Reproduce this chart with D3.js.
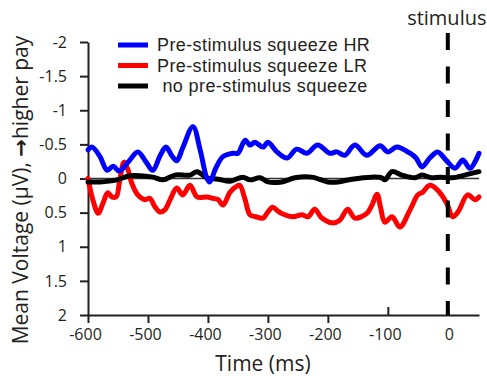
<!DOCTYPE html>
<html>
<head>
<meta charset="utf-8">
<script src="https://cdn.jsdelivr.net/npm/d3@7"></script>
<style>
  body { margin: 0; background: #fff; }
  svg { font-family: "Open Sans", sans-serif; }
</style>
</head>
<body>
<svg width="487" height="376"></svg>
<script>
// values (time in ms, voltage in µV; negative is plotted up)
const hrTime = [-600,-593,-580,-568,-558,-548,-533,-517,-503,-492,-480,-470,-460,-452,-442,-425,-413,-402,-397,-387,-375,-358,-350,-338,-330,-322,-308,-300,-285,-268,-252,-235,-217,-197,-185,-172,-155,-135,-113,-100,-85,-63,-53,-43,-30,-17,-3,12,25,37,52];
const hrVal = [-0.42,-0.46,-0.32,-0.12,-0.18,-0.11,-0.24,-0.39,-0.24,-0.12,-0.33,-0.46,-0.33,-0.26,-0.45,-0.76,-0.42,-0.01,0.05,-0.15,-0.32,-0.37,-0.37,-0.56,-0.49,-0.53,-0.46,-0.53,-0.39,-0.30,-0.43,-0.37,-0.49,-0.37,-0.39,-0.34,-0.49,-0.34,-0.48,-0.39,-0.46,-0.37,-0.30,-0.17,-0.30,-0.39,-0.27,-0.15,-0.27,-0.15,-0.37];

const lrTime = [-600,-592,-583,-575,-567,-560,-553,-547,-540,-533,-527,-517,-505,-497,-488,-480,-472,-463,-452,-442,-430,-418,-402,-392,-383,-375,-363,-353,-347,-338,-330,-320,-308,-300,-292,-283,-275,-258,-243,-233,-222,-210,-193,-180,-167,-155,-135,-127,-118,-112,-105,-93,-80,-63,-50,-42,-30,-17,-2,8,17,33,45,52];
const lrVal = [0.0,0.31,0.51,0.36,0.21,0.27,0.27,0.02,-0.24,-0.12,0.07,0.24,0.31,0.29,0.42,0.49,0.46,0.31,0.14,0.24,0.1,0.27,0.27,0.29,0.31,0.39,0.2,0.12,0.1,0.31,0.53,0.56,0.58,0.49,0.42,0.48,0.52,0.56,0.53,0.56,0.45,0.58,0.65,0.61,0.45,0.58,0.51,0.4,0.23,0.43,0.64,0.56,0.71,0.46,0.24,0.2,0.1,0.17,0.36,0.56,0.49,0.24,0.31,0.27];

const nsTime = [-600,-580,-552,-530,-492,-475,-455,-430,-418,-402,-383,-363,-342,-330,-313,-300,-277,-255,-227,-200,-183,-160,-127,-110,-105,-93,-77,-55,-43,-27,-13,7,28,52];
const nsVal = [0.05,0.05,0.02,-0.04,-0.02,0.02,-0.05,-0.05,-0.1,-0.01,0.01,0.04,-0.02,0.02,-0.01,0.05,0.05,-0.01,-0.02,0.05,0.05,0.01,-0.02,-0.01,0.02,-0.1,-0.05,-0.01,-0.05,-0.01,-0.02,-0.01,-0.05,-0.1];

const seriesNames = ["Pre-stimulus squeeze HR", "Pre-stimulus squeeze LR", " no pre-stimulus squeeze"];
const seriesColors = ["#0000ff", "#ff0000", "#000000"];
const xTicks = [-600, -500, -400, -300, -200, -100, 0];
const yTicks = [-2, -1.5, -1, -0.5, 0, 0.5, 1, 1.5, 2];

const svg = d3.select("svg");
const x = d3.scaleLinear().domain([-600, 52]).range([88, 479]);
const y = d3.scaleLinear().domain([-2, 2]).range([42, 315]);
const ink = "#231f20";

// axes (plain hyphen for negatives, like the original)
const yAxis = svg.append("g")
  .attr("transform", `translate(${x(-600)},0)`)
  .call(d3.axisLeft(y).tickValues(yTicks).tickSize(8).tickSizeOuter(0).tickPadding(13)
    .tickFormat(d => String(d)));
const xAxis = svg.append("g")
  .attr("transform", `translate(0,${y(2)})`)
  .call(d3.axisBottom(x).tickValues(xTicks).tickSize(8).tickSizeOuter(0).tickPadding(6)
    .tickFormat(d => String(d)));

[yAxis, xAxis].forEach(g => {
  g.select(".domain").attr("stroke", ink).attr("stroke-width", 2);
  g.selectAll(".tick line").attr("stroke", ink).attr("stroke-width", 2);
  g.selectAll(".tick text").attr("fill", ink).style("font-size", "16px")
    .style("font-family", '"Open Sans", sans-serif');
});
xAxis.selectAll(".tick").filter(d => d >= -100).select("line").attr("y2", -8);
xAxis.selectAll(".tick text").attr("dx", d => d < 0 ? "-3px" : "1px");

// zero line
svg.append("line")
  .attr("x1", x(-600)).attr("x2", x(52))
  .attr("y1", y(0)).attr("y2", y(0))
  .attr("stroke", "#333").attr("stroke-width", 1.5);

const line = d3.line().x(d => x(d[0])).y(d => y(d[1])).curve(d3.curveCatmullRom);

const series = [
  d3.zip(lrTime, lrVal),
  d3.zip(nsTime, nsVal),
  d3.zip(hrTime, hrVal)
];
const colors = [seriesColors[1], seriesColors[2], seriesColors[0]];

svg.selectAll("path.trace")
  .data(series)
  .enter()
  .append("path")
  .attr("class", "trace")
  .attr("d", line)
  .attr("fill", "none")
  .attr("stroke", (d, i) => colors[i])
  .attr("stroke-width", 5)
  .attr("stroke-linejoin", "round")
  .attr("stroke-linecap", "round");

// stimulus marker
svg.append("line")
  .attr("x1", x(0)).attr("x2", x(0))
  .attr("y1", 33).attr("y2", y(2))
  .attr("stroke", "#000").attr("stroke-width", 4)
  .attr("stroke-dasharray", "17,16.5");
svg.append("text")
  .attr("x", x(0) - 1).attr("y", 25)
  .attr("text-anchor", "middle")
  .style("font-size", "20px").attr("fill", ink)
  .text("stimulus");

// legend
const legend = svg.append("g");
seriesNames.forEach((name, i) => {
  const ly = 45 + i * 20.5;
  legend.append("line")
    .attr("x1", 118).attr("x2", 148).attr("y1", ly).attr("y2", ly)
    .attr("stroke", seriesColors[i]).attr("stroke-width", 5);
  legend.append("text")
    .attr("x", 157).attr("y", ly + 6)
    .style("font-family", '"Liberation Sans", Arial, sans-serif')
    .style("font-size", "18px").style("letter-spacing", "0.4px")
    .style("white-space", "pre").attr("fill", ink)
    .text(name);
});

// axis titles
svg.append("text")
  .attr("x", 263).attr("y", 371)
  .attr("text-anchor", "middle")
  .style("font-size", "21px").attr("fill", ink)
  .text("Time (ms)");
const yTitle = svg.append("text")
  .attr("transform", "translate(28,190) rotate(-90)")
  .attr("text-anchor", "middle")
  .style("font-size", "21px").attr("fill", ink);
yTitle.append("tspan").text("Mean Voltage (μV), ");
yTitle.append("tspan").style("font-family", '"DejaVu Sans", sans-serif')
  .style("font-weight", "bold").text("→");
yTitle.append("tspan").text("higher pay");
</script>
</body>
</html>
